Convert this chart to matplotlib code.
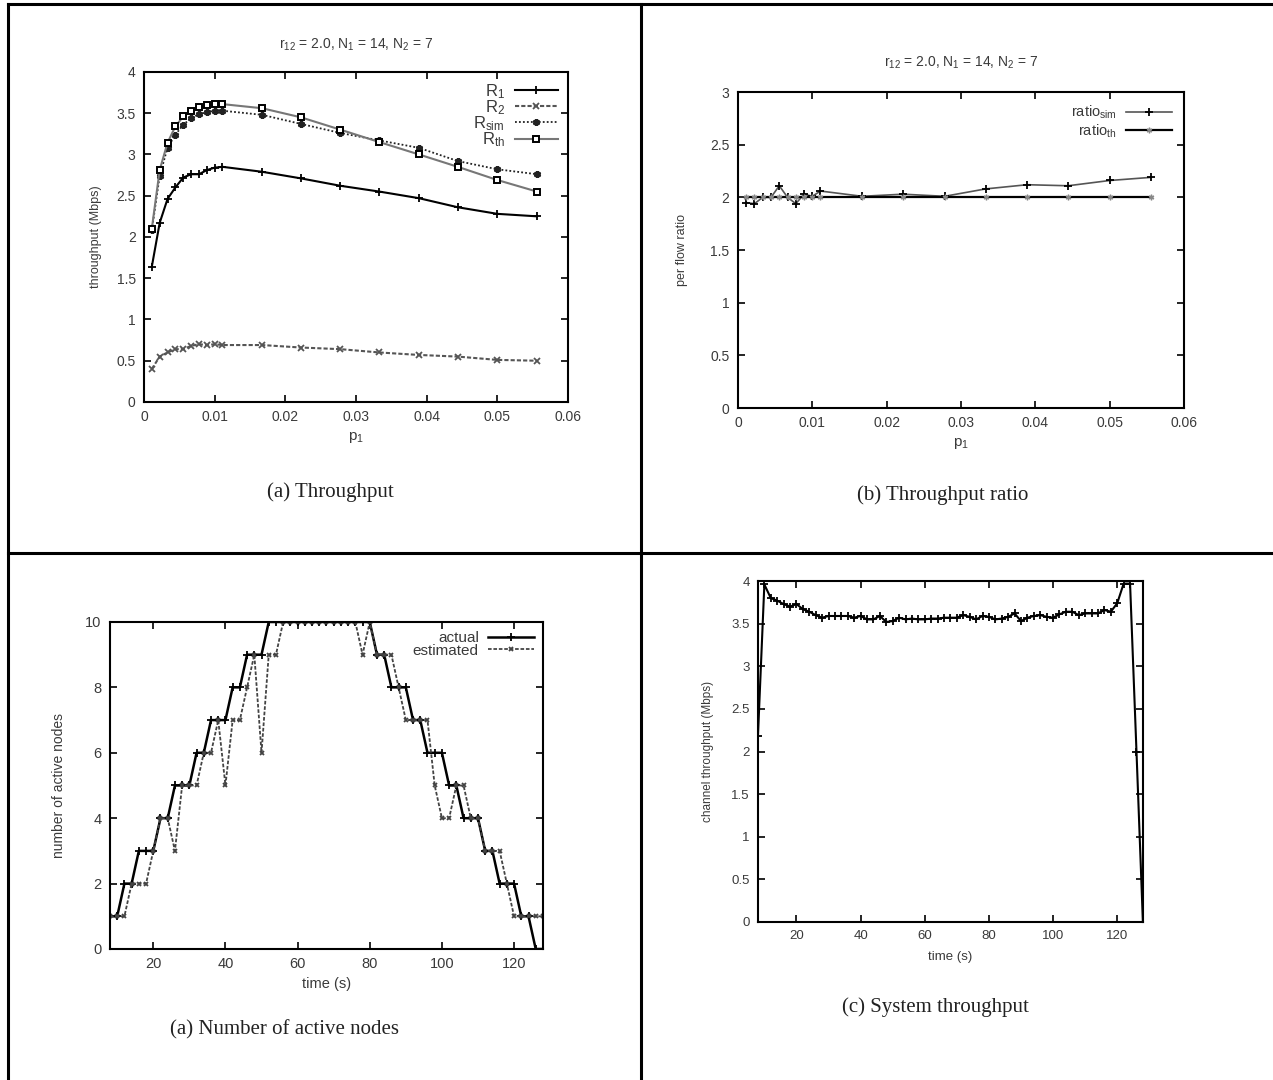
import matplotlib
matplotlib.use('Agg')
import matplotlib.pyplot as plt
from matplotlib.lines import Line2D

# Matplotlib tweaks -----------------------------------------------------------
plt.rcParams['font.family'] = ['Liberation Sans', 'DejaVu Sans']
plt.rcParams['mathtext.fontset'] = 'custom'
plt.rcParams['mathtext.rm'] = 'Liberation Sans'
plt.rcParams['mathtext.it'] = 'Liberation Sans'
plt.rcParams['mathtext.default'] = 'regular'

TXT = '#3a3a3a'

# Data ------------------------------------------------------------------------
p1 = [0.00111, 0.00222, 0.00333, 0.00444, 0.00556, 0.00667, 0.00778,
      0.00889, 0.0100, 0.0111, 0.0167, 0.0222, 0.0278, 0.0333, 0.0389,
      0.0444, 0.0500, 0.0556]

r1 = [1.64, 2.17, 2.46, 2.60, 2.72, 2.76, 2.76, 2.81, 2.84, 2.85,
      2.79, 2.71, 2.62, 2.55, 2.47, 2.36, 2.28, 2.25]
r2 = [0.40, 0.55, 0.60, 0.64, 0.64, 0.68, 0.70, 0.69, 0.70, 0.69,
      0.69, 0.66, 0.64, 0.60, 0.57, 0.55, 0.51, 0.50]
r_sim = [2.08, 2.74, 3.08, 3.24, 3.36, 3.44, 3.49, 3.51, 3.53, 3.53,
         3.48, 3.37, 3.26, 3.17, 3.08, 2.92, 2.82, 2.76]
r_th = [2.10, 2.81, 3.14, 3.34, 3.46, 3.53, 3.58, 3.60, 3.61, 3.61,
        3.56, 3.45, 3.30, 3.15, 3.00, 2.85, 2.69, 2.55]

ratio_sim = [1.95, 1.94, 2.00, 2.00, 2.11, 2.00, 1.94, 2.03, 2.01, 2.06,
             2.01, 2.03, 2.01, 2.08, 2.12, 2.11, 2.16, 2.19]
ratio_th = [2.0, 2.0, 2.0, 2.0, 2.0, 2.0, 2.0, 2.0, 2.0, 2.0,
            2.0, 2.0, 2.0, 2.0, 2.0, 2.0, 2.0, 2.0]

time_s = [8, 10, 12, 14, 16, 18, 20, 22, 24, 26, 28, 30, 32, 34, 36, 38,
          40, 42, 44, 46, 48, 50, 52, 54, 56, 58, 60, 62, 64, 66, 68, 70,
          72, 74, 76, 78, 80, 82, 84, 86, 88, 90, 92, 94, 96, 98, 100, 102,
          104, 106, 108, 110, 112, 114, 116, 118, 120, 122, 124, 126, 128]

actual = [1, 1, 2, 2, 3, 3, 3, 4, 4, 5, 5, 5, 6, 6, 7, 7,
          7, 8, 8, 9, 9, 9, 10, 10, 10, 10, 10, 10, 10, 10, 10, 10,
          10, 10, 10, 10, 10, 9, 9, 8, 8, 8, 7, 7, 6, 6, 6, 5,
          5, 4, 4, 4, 3, 3, 2, 2, 2, 1, 1, 0, 0]
estimated = [1, 1, 1, 2, 2, 2, 3, 4, 4, 3, 5, 5, 5, 6, 6, 7,
             5, 7, 7, 8, 9, 6, 9, 9, 10, 10, 10, 10, 10, 10, 10, 10,
             10, 10, 10, 9, 10, 9, 9, 9, 8, 7, 7, 7, 7, 5, 4, 4,
             5, 5, 4, 4, 3, 3, 3, 2, 1, 1, 1, 1, 1]

chan_tput = [2.18, 3.96, 3.80, 3.77, 3.73, 3.70, 3.73, 3.67, 3.64, 3.60,
             3.57, 3.59, 3.59, 3.59, 3.59, 3.57, 3.59, 3.55, 3.55, 3.59,
             3.52, 3.53, 3.57, 3.55, 3.56, 3.55, 3.55, 3.56, 3.56, 3.57,
             3.57, 3.57, 3.60, 3.58, 3.55, 3.59, 3.58, 3.55, 3.56, 3.58,
             3.62, 3.53, 3.57, 3.59, 3.60, 3.58, 3.57, 3.61, 3.64, 3.64,
             3.60, 3.62, 3.62, 3.62, 3.66, 3.64, 3.74, 3.97, 3.97, 2.00,
             0.00]

title_txt = r'$r_{12}$ = 2.0, $N_1$ = 14, $N_2$ = 7'


def gnuplot_axes(ax, fs=10):
    ax.tick_params(direction='in', top=True, right=True, length=5,
                   width=1.2, labelsize=fs, labelcolor=TXT, pad=6)
    for s in ['bottom', 'left', 'top', 'right']:
        ax.spines[s].set_linewidth(1.5)
        ax.spines[s].set_color('black')


# -----------------------------------------------------------------------------
fig = plt.figure(figsize=(12.73, 10.8), dpi=100)

# (a) Throughput
ax1 = fig.add_axes([0.1131, 0.6278, 0.3331, 0.3056])
ax1.plot(p1, r1, color='black', lw=1.5, marker='+', ms=6, mew=1.3,
         label='$R_1$')
ax1.plot(p1, r2, color='#555555', lw=1.5, ls=(0, (2, 1)), marker='x',
         ms=4, mew=1.3, label='$R_2$')
ax1.plot(p1, r_sim, color='#222222', lw=1.3, ls=(0, (1, 1.2)),
         marker=(6, 2, 0), ms=5, mew=1.8, label='$R_{sim}$')
ax1.plot(p1, r_th, color='#777777', lw=1.5, marker='s', ms=4.5, mew=1.4,
         mfc='white', mec='black', label='$R_{th}$')
ax1.set_xlim(0, 0.06)
ax1.set_ylim(0, 4)
ax1.set_xticks([0, 0.01, 0.02, 0.03, 0.04, 0.05, 0.06])
ax1.set_xticklabels(['0', '0.01', '0.02', '0.03', '0.04', '0.05', '0.06'])
ax1.set_yticks([0, 0.5, 1, 1.5, 2, 2.5, 3, 3.5, 4])
ax1.set_yticklabels(['0', '0.5', '1', '1.5', '2', '2.5', '3', '3.5', '4'])
gnuplot_axes(ax1)
ax1.set_xlabel('$p_1$', fontsize=11, color=TXT, labelpad=4)
ax1.set_ylabel('throughput (Mbps)', fontsize=9, color=TXT, labelpad=10)
ax1.set_title(title_txt, fontsize=10, color=TXT, pad=17)
ax1.legend(loc='upper right', frameon=False, markerfirst=False,
           fontsize=12, handlelength=2.6, labelspacing=-0.15,
           borderaxespad=0.2, handletextpad=0.6, labelcolor=TXT)

# (b) Throughput ratio
ax2 = fig.add_axes([0.5797, 0.6222, 0.3504, 0.2926])
ax2.plot(p1, ratio_sim, color='#555555', lw=1.2, marker='+', ms=6,
         mew=1.3, mec='black', label='$ratio_{sim}$')
ax2.plot(p1, ratio_th, color='black', lw=1.6, marker=(6, 2, 0), ms=4,
         mew=1, mec='#888888', label='$ratio_{th}$')
ax2.set_xlim(0, 0.06)
ax2.set_ylim(0, 3)
ax2.set_xticks([0, 0.01, 0.02, 0.03, 0.04, 0.05, 0.06])
ax2.set_xticklabels(['0', '0.01', '0.02', '0.03', '0.04', '0.05', '0.06'])
ax2.set_yticks([0, 0.5, 1, 1.5, 2, 2.5, 3])
ax2.set_yticklabels(['0', '0.5', '1', '1.5', '2', '2.5', '3'])
gnuplot_axes(ax2)
ax2.set_xlabel('$p_1$', fontsize=11, color=TXT, labelpad=4)
ax2.set_ylabel('per flow ratio', fontsize=9, color=TXT, labelpad=16)
ax2.set_title(title_txt, fontsize=10, color=TXT, pad=18)
ax2.legend(loc='upper right', frameon=False, markerfirst=False,
           fontsize=10.5, handlelength=3.2, labelspacing=0.1,
           borderaxespad=0.4, handletextpad=0.6, labelcolor=TXT)

# (a) Number of active nodes
ax3 = fig.add_axes([0.0864, 0.1213, 0.3401, 0.3028])
ax3.plot(time_s, actual, color='black', lw=1.8, marker='+', ms=6,
         mew=1.3, label='actual')
ax3.plot(time_s, estimated, color='#444444', lw=1.3, ls=(0, (2, 1)),
         marker='x', ms=3.5, mew=1.3, label='estimated')
ax3.set_xlim(8, 128)
ax3.set_ylim(0, 10)
ax3.set_xticks([20, 40, 60, 80, 100, 120])
ax3.set_yticks([0, 2, 4, 6, 8, 10])
gnuplot_axes(ax3, fs=10.5)
ax3.set_xlabel('time (s)', fontsize=10.5, color=TXT, labelpad=4)
ax3.set_ylabel('number of active nodes', fontsize=10, color=TXT,
               labelpad=14)
ax3.legend(loc='upper right', frameon=False, markerfirst=False,
           fontsize=11, handlelength=3.0, labelspacing=-0.1,
           borderaxespad=0.2, handletextpad=0.6, labelcolor=TXT)

# (c) System throughput
ax4 = fig.add_axes([0.5954, 0.1463, 0.3024, 0.3157])
ax4.plot(time_s, chan_tput, color='black', lw=1.5, marker='+', ms=6,
         mew=1.3)
ax4.set_xlim(8, 128)
ax4.set_ylim(0, 4)
ax4.set_xticks([20, 40, 60, 80, 100, 120])
ax4.set_yticks([0, 0.5, 1, 1.5, 2, 2.5, 3, 3.5, 4])
ax4.set_yticklabels(['0', '0.5', '1', '1.5', '2', '2.5', '3', '3.5', '4'])
gnuplot_axes(ax4, fs=9.5)
ax4.set_xlabel('time (s)', fontsize=9.5, color=TXT, labelpad=6)
ax4.set_ylabel('channel throughput (Mbps)', fontsize=8.5, color=TXT,
               labelpad=12)

# Captions
cap = dict(family=['Liberation Serif', 'DejaVu Serif'], fontsize=15,
           color='#222222', ha='center', va='center')
fig.text(330 / 1273, 1 - 492 / 1080, '(a) Throughput', **cap)
fig.text(943 / 1273, 1 - 495 / 1080, '(b) Throughput ratio', **cap)
fig.text(285 / 1273, 1 - 1030 / 1080, '(a) Number of active nodes', **cap)
fig.text(935 / 1273, 1 - 1007 / 1080, '(c) System throughput', **cap)


# Table borders
def fig_line(x0, y0, x1, y1):
    fig.add_artist(Line2D([x0 / 1273, x1 / 1273],
                          [1 - y0 / 1080, 1 - y1 / 1080],
                          color='black', lw=2.2,
                          transform=fig.transFigure))


fig_line(8, 4, 8, 1080)
fig_line(8, 4, 1273, 4)
fig_line(641, 4, 641, 1080)
fig_line(8, 553, 1273, 553)

plt.savefig('out.png', dpi=100)
